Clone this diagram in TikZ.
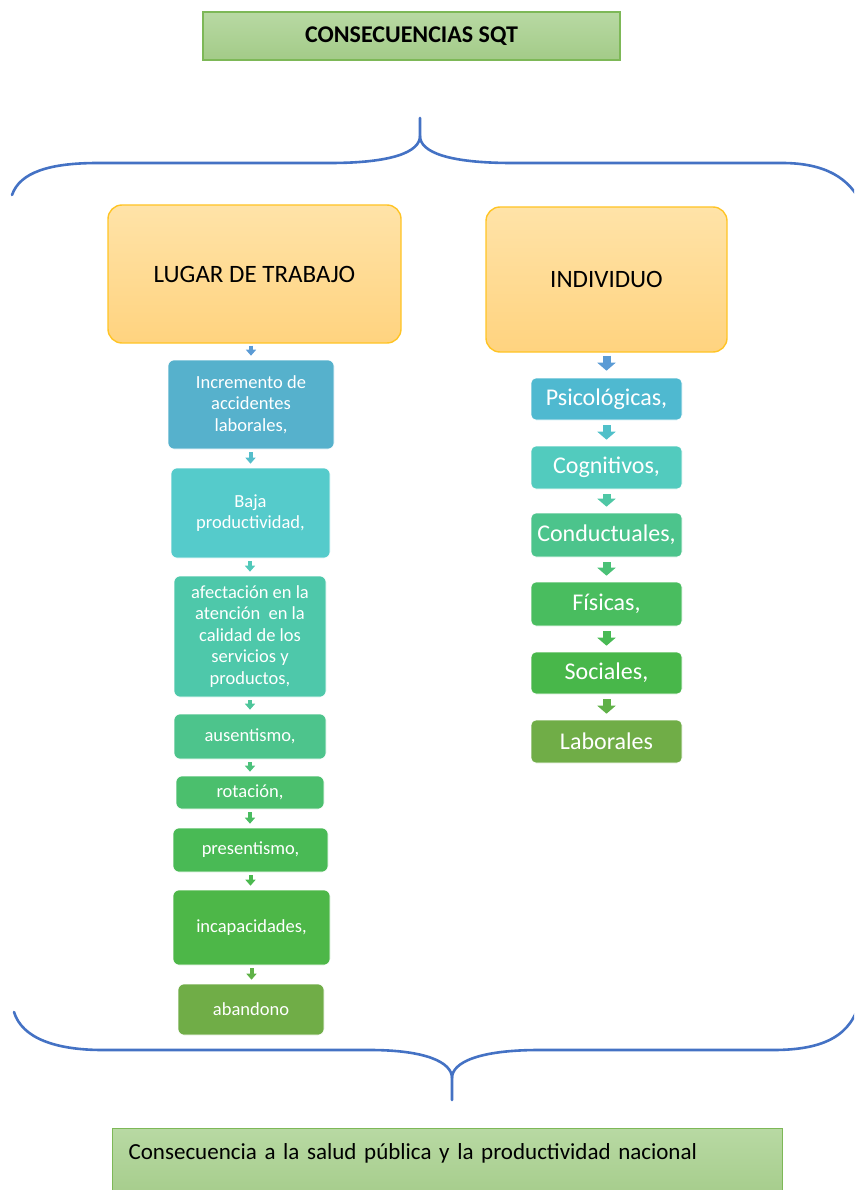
\documentclass[tikz,border=0pt]{standalone}
\usepackage{fontspec}
\setmainfont{Carlito}
\usetikzlibrary{arrows.meta}
\definecolor{bracec}{HTML}{4472C4}
\definecolor{gtop}{HTML}{B8D9A3}
\definecolor{gbot}{HTML}{A3CB88}
\definecolor{gborder}{HTML}{7DB857}
\definecolor{otop}{HTML}{FFE3A8}
\definecolor{obot}{HTML}{FFD37F}
\definecolor{oborder}{HTML}{FFC425}
\definecolor{c0}{HTML}{5B9BD5}
\definecolor{c1}{HTML}{56B1CC}
\definecolor{c2}{HTML}{55CBCB}
\definecolor{c3}{HTML}{4EC8AA}
\definecolor{c4}{HTML}{4DC48C}
\definecolor{c5}{HTML}{4BBF6D}
\definecolor{c6}{HTML}{49BA55}
\definecolor{c7}{HTML}{4DB748}
\definecolor{c8}{HTML}{70AD47}
\definecolor{r1}{HTML}{4FB9D0}
\definecolor{r2}{HTML}{52CBBE}
\definecolor{r3}{HTML}{4CC48C}
\definecolor{r4}{HTML}{49BD5F}
\definecolor{r5}{HTML}{48B74A}
\definecolor{r6}{HTML}{70AD47}
\tikzset{
  brace/.style={draw=bracec, line width=2.6pt, line cap=round},
  greenbox/.style={draw=gborder, line width=1.2pt, top color=gtop, bottom color=gbot, inner sep=0pt},
  orangebox/.style={draw=oborder, line width=1.4pt, top color=otop, bottom color=obot, rounded corners=14pt, inner sep=0pt,
    font=\fontsize{25}{29}\selectfont},
  lbox/.style={draw=white, line width=0.6pt, rounded corners=6pt, inner sep=0pt, text=white, align=center,
    font=\fontsize{18.5}{21.5}\selectfont},
  rbox/.style={draw=white, line width=0.6pt, rounded corners=5pt, inner sep=0pt, text=white, align=center,
    minimum width=151pt, font=\fontsize{24}{28}\selectfont},
  larrow/.style={line width=4pt, -{Triangle[width=10pt,length=6pt]}, shorten <=3pt, shorten >=4pt},
  rarrow/.style={line width=8pt, -{Triangle[width=18pt,length=8pt]}, shorten <=5pt, shorten >=6pt},
}
\begin{document}
\begin{tikzpicture}[x=1pt,y=-1pt]
\useasboundingbox (0,0) rectangle (854,1190);
\clip (0,0) rectangle (854,1190);
% title
\node[greenbox, minimum width=417pt, minimum height=48pt, font=\fontsize{24}{28}\selectfont\bfseries] (title) at (411.5,36) {CONSECUENCIAS SQT};
% top brace
\draw[brace] (12,195) .. controls (20,172) and (50,163) .. (98,163) -- (330,163) .. controls (392,163) and (420,152) .. (420,136) -- (420,118);
\draw[brace] (420,136) .. controls (420,152) and (448,163) .. (512,163) -- (782,163) .. controls (825,163) and (850,178) .. (862,205);
% big boxes
\node[orangebox, minimum width=293pt, minimum height=138pt] (lugar) at (254.5,274) {LUGAR DE TRABAJO};
\node[orangebox, minimum width=241pt, minimum height=145pt] (indiv) at (606.5,279.5) {INDIVIDUO};
% left column
\node[lbox, fill=c1, minimum width=166pt, minimum height=89pt] (l1) at (251,404.5) {Incremento de\\accidentes\\laborales,};
\node[lbox, fill=c2, minimum width=159pt, minimum height=90pt] (l2) at (250.5,513) {Baja\\productividad,};
\node[lbox, fill=c3, minimum width=152pt, minimum height=121pt] (l3) at (250,636.5) {afectación en la\\atención~ en la\\calidad de los\\servicios y\\productos,};
\node[lbox, fill=c4, minimum width=152pt, minimum height=45pt] (l4) at (250,736.5) {ausentismo,};
\node[lbox, fill=c5, minimum width=148pt, minimum height=33pt] (l5) at (250,792.5) {rotación,};
\node[lbox, fill=c6, minimum width=155pt, minimum height=44pt] (l6) at (250.5,850) {presentismo,};
\node[lbox, fill=c7, minimum width=157pt, minimum height=75pt] (l7) at (251.5,927.5) {incapacidades,};
\node[lbox, fill=c8, minimum width=146pt, minimum height=51pt] (l8) at (251,1009.5) {abandono};
% left arrows
\draw[larrow, c0, shorten <=2pt] (lugar.south -| l1.north) -- (l1.north);
\draw[larrow, c1!50!c2] (l1.south -| l2.north) -- (l2.north);
\draw[larrow, c2!50!c3] (l2.south -| l3.north) -- (l3.north);
\draw[larrow, c3!50!c4] (l3.south) -- (l4.north);
\draw[larrow, c4!50!c5] (l4.south) -- (l5.north);
\draw[larrow, c5!50!c6] (l5.south) -- (l5.south |- l6.north);
\draw[larrow, c6!50!c7] (l6.south) -- (l6.south |- l7.north);
\draw[larrow, c7!50!c8] (l7.south) -- (l7.south |- l8.north);
% right column
\node[rbox, fill=r1, minimum height=42pt] (p1) at (606.5,399) {Psicológicas,};
\node[rbox, fill=r2, minimum height=43pt] (p2) at (606.5,467.5) {Cognitivos,};
\node[rbox, fill=r3, minimum height=44pt] (p3) at (606.5,535) {Conductuales,};
\node[rbox, fill=r4, minimum height=44pt] (p4) at (606.5,604) {Físicas,};
\node[rbox, fill=r5, minimum height=42pt] (p5) at (606.5,673) {Sociales,};
\node[rbox, fill=r6, minimum height=43pt] (p6) at (606.5,741.5) {Laborales};
% right arrows
\draw[rarrow, c0, shorten <=3pt, shorten >=7pt] (indiv.south) -- (p1.north);
\draw[rarrow, r1!60!r2] (p1.south) -- (p2.north);
\draw[rarrow, r2!50!r3] (p2.south) -- (p3.north);
\draw[rarrow, r3!50!r4] (p3.south) -- (p4.north);
\draw[rarrow, r4!50!r5] (p4.south) -- (p5.north);
\draw[rarrow, r5!40!r6] (p5.south) -- (p6.north);
% bottom brace
\draw[brace] (14,1012) .. controls (22,1038) and (55,1050) .. (103,1050) -- (370,1050) .. controls (425,1050) and (452,1062) .. (452,1078) -- (452,1100);
\draw[brace] (452,1078) .. controls (452,1062) and (480,1050) .. (539,1050) -- (773,1050) .. controls (825,1050) and (852,1035) .. (860,1000);
% bottom box
\node[greenbox, anchor=north west, text width=638pt, align=left, inner xsep=16pt, inner ysep=16pt,
  text height=15pt, text depth=30pt, font=\fontsize{23}{27}\selectfont] (result) at (112,1128)
  {Consecuencia a la salud pública y la productividad nacional};
\end{tikzpicture}
\end{document}
